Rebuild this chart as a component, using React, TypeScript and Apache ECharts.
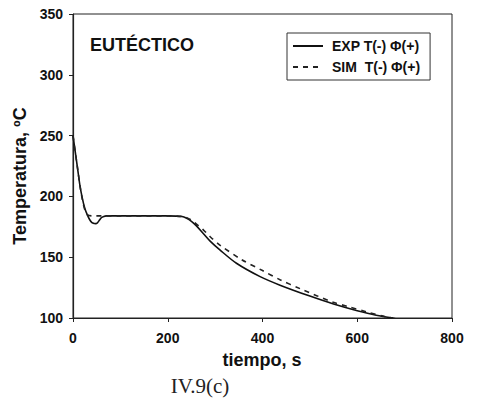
import React, { useEffect, useRef } from "react";
import * as echarts from "echarts";

const expTime = [0, 5, 10, 15, 20, 25, 30, 35, 40, 45, 48, 52, 56, 60, 65, 70, 80, 100, 150, 200, 230, 240, 250, 260, 275, 290, 310, 345, 395, 437, 500, 550, 600, 640, 676];
const expTemp = [250, 236, 222, 208, 198, 190, 185, 181, 178.5, 177.7, 177.6, 178.5, 180.5, 182.5, 183.5, 184, 184, 184, 184, 184, 183.5, 182, 179.5, 176, 169.5, 163, 156, 145, 134, 127, 118, 111.5, 106, 102.3, 100];

const simTime = [0, 5, 10, 15, 20, 25, 30, 40, 60, 100, 200, 230, 240, 250, 260, 275, 289, 310, 356, 400, 437, 480, 549, 580, 620, 660, 690];
const simTemp = [250, 236, 222, 208, 197, 189, 185, 184, 184, 184, 184, 183.5, 182.5, 180.5, 177.5, 172.5, 167, 160, 148, 139, 131.5, 124, 113, 109.5, 105, 101, 99];

const seriesNames = ["EXP T(-) \u03A6(+)", "SIM  T(-) \u03A6(+)"];
const xTicks = { min: 0, max: 800, interval: 200 };
const yTicks = { min: 100, max: 350, interval: 50 };

const FONT = "'Liberation Sans', Arial, sans-serif";

export default function App() {
  const ref = useRef<HTMLDivElement>(null);
  useEffect(() => {
    if (!ref.current) return;
    const chart = echarts.init(ref.current, undefined, { renderer: "svg" });
    const toPairs = (t: number[], v: number[]) => t.map((x, i) => [x, v[i]]);
    chart.setOption({
      animation: false,
      backgroundColor: "#fff",
      grid: {
        left: 73,
        top: 14,
        right: 25,
        bottom: 81,
        show: true,
        borderColor: "#222",
        borderWidth: 1,
      },
      xAxis: {
        type: "value",
        min: xTicks.min,
        max: xTicks.max,
        interval: xTicks.interval,
        axisLine: { lineStyle: { color: "#222", width: 1.2 } },
        axisTick: { show: true, length: 4, lineStyle: { color: "#222" } },
        splitLine: { show: false },
        axisLabel: { color: "#111", fontWeight: "bold", fontSize: 14, fontFamily: FONT, margin: 13 },
      },
      yAxis: {
        type: "value",
        min: yTicks.min,
        max: yTicks.max,
        interval: yTicks.interval,
        axisLine: { show: true, lineStyle: { color: "#222", width: 1.2 } },
        axisTick: { show: true, length: 4, lineStyle: { color: "#222" } },
        splitLine: { show: false },
        axisLabel: { color: "#111", fontWeight: "bold", fontSize: 14, fontFamily: FONT, margin: 10 },
      },
      legend: {
        orient: "vertical",
        left: 287,
        top: 33,
        data: seriesNames,
        borderColor: "#333",
        borderWidth: 1,
        padding: [6, 10, 6, 5],
        itemGap: 7,
        itemWidth: 30,
        itemHeight: 14,
        itemStyle: { opacity: 0 },
        textStyle: { color: "#111", fontWeight: "bold", fontSize: 14, fontFamily: FONT, padding: [0, 0, 0, 4] },
      },
      graphic: [
        {
          type: "text",
          left: 90,
          top: 36,
          style: { text: "EUTÉCTICO", font: `bold 18px ${FONT}`, fill: "#111" },
        },
        {
          type: "text",
          x: 20,
          y: 176,
          rotation: Math.PI / 2,
          style: {
            text: "Temperatura, ºC",
            font: `bold 18px ${FONT}`,
            fill: "#111",
            align: "center",
            verticalAlign: "middle",
          },
        },
        {
          type: "text",
          x: 262,
          y: 360,
          style: {
            text: "tiempo, s",
            font: `bold 18px ${FONT}`,
            fill: "#111",
            align: "center",
            verticalAlign: "middle",
          },
        },
        {
          type: "text",
          x: 200,
          y: 386,
          style: {
            text: "IV.9(c)",
            font: `21px 'Liberation Serif', 'DejaVu Serif', serif`,
            fill: "#222",
            align: "center",
            verticalAlign: "middle",
          },
        },
      ],
      series: [
        {
          name: seriesNames[0],
          type: "line",
          data: toPairs(expTime, expTemp),
          smooth: 0.3,
          symbol: "none",
          clip: true,
          lineStyle: { color: "#111", width: 1.6, type: "solid" },
          itemStyle: { color: "#111" },
        },
        {
          name: seriesNames[1],
          type: "line",
          data: toPairs(simTime, simTemp),
          smooth: 0.3,
          symbol: "none",
          clip: true,
          lineStyle: { color: "#222", width: 1.6, type: [5, 5] },
          itemStyle: { color: "#222" },
        },
      ],
    });
    return () => chart.dispose();
  }, []);
  return <div ref={ref} style={{ width: 477, height: 399, position: "absolute", left: 0, top: 0 }} />;
}
